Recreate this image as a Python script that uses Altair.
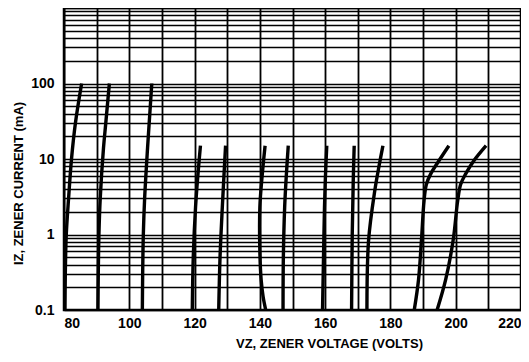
import altair as alt
import pandas as pd

# Zener curves: voltage (V) at given current (mA)
v_a = [80.3, 80.4, 80.7, 81.4, 82.3, 83.5, 85.4]
i_a = [0.1, 0.3, 1, 3, 10, 30, 100]
v_b = [90.4, 90.5, 90.7, 91.1, 92.1, 92.8, 93.9]
i_b = [0.1, 0.3, 1, 3, 14, 30, 100]
v_c = [104.0, 104.1, 104.3, 104.7, 105.6, 106.1, 106.9]
i_c = [0.1, 0.3, 1, 3, 14, 30, 100]
v_d = [119.3, 119.6, 120.3, 121.0, 121.8]
i_d = [0.1, 0.5, 2.3, 6, 15]
v_e = [127.4, 127.8, 128.5, 129.0, 129.5]
i_e = [0.1, 0.5, 2.3, 6, 15]
v_f = [141.8, 141.0, 140.4, 140.0, 140.0, 140.7, 141.6]
i_f = [0.1, 0.15, 0.25, 0.6, 2.3, 6, 15]
v_g = [147.1, 147.2, 147.6, 148.1, 148.7]
i_g = [0.1, 0.5, 2.3, 6, 15]
v_h = [159.2, 159.5, 159.8, 160.1, 160.5]
i_h = [0.1, 0.5, 2.3, 6, 15]
v_i = [168.1, 168.3, 168.6, 168.9]
i_i = [0.1, 1, 5, 15]
v_j = [172.8, 173.3, 175.2, 176.5, 177.7]
i_j = [0.1, 0.83, 3.8, 8, 15]
v_k = [187.3, 188.6, 189.5, 190.3, 191.0, 192.3, 194.8, 197.9]
i_k = [0.1, 0.25, 0.83, 2.8, 4.6, 6.3, 9.4, 15]
v_l = [194.3, 196.9, 199.2, 200.6, 201.5, 203.0, 205.5, 209.3]
i_l = [0.1, 0.25, 0.83, 2.8, 4.6, 6.3, 9.4, 15]

curves = {
    "A": (v_a, i_a), "B": (v_b, i_b), "C": (v_c, i_c), "D": (v_d, i_d),
    "E": (v_e, i_e), "F": (v_f, i_f), "G": (v_g, i_g), "H": (v_h, i_h),
    "I": (v_i, i_i), "J": (v_j, i_j), "K": (v_k, i_k), "L": (v_l, i_l),
}

x_ticks = [80, 90, 100, 110, 120, 130, 140, 150, 160, 170, 180, 190, 200, 210, 220]
y_ticks = [0.1, 0.2, 0.3, 0.4, 0.5, 0.6, 0.7, 0.8, 0.9,
           1, 2, 3, 4, 5, 6, 7, 8, 9,
           10, 20, 30, 40, 50, 60, 70, 80, 90,
           100, 200, 300, 400, 500, 600, 700, 800, 900, 1000]
y_labels = ["0.1", "1", "10", "100"]

rows = []
for name, (vs, cs) in curves.items():
    for k, (v, c) in enumerate(zip(vs, cs)):
        rows.append({"curve": name, "v": v, "i": c, "seq": k})
df = pd.DataFrame(rows)

FONT = "Liberation Sans, Arial, sans-serif"

label_expr = "indexof(" + str(y_labels) + ", toString(datum.value)) >= 0 ? toString(datum.value) : ''"

chart = alt.Chart(df).mark_line(
    color="black", strokeWidth=3.4, interpolate="catmull-rom", clip=True
).encode(
    x=alt.X("v:Q",
            scale=alt.Scale(domain=[80, 220], nice=False, zero=False),
            axis=alt.Axis(values=x_ticks,
                          labelExpr="datum.value % 20 == 0 ? toString(datum.value) : ''",
                          title="VZ, ZENER VOLTAGE (VOLTS)",
                          titleX=265, titleY=33, titleBaseline="middle",
                          labelPadding=6, labelFontSize=14, gridWidth=1.8)),
    y=alt.Y("i:Q",
            scale=alt.Scale(type="log", domain=[0.1, 1000], nice=False),
            axis=alt.Axis(values=y_ticks, labelExpr=label_expr,
                          title="IZ, ZENER CURRENT (mA)",
                          titleX=-46, titleY=175, titleAngle=-90,
                          titleAlign="center", titleBaseline="middle",
                          labelPadding=10, labelFontSize=14, gridWidth=1.5)),
    detail="curve:N",
    order="seq:Q",
).properties(
    width=457, height=302,
    autosize=alt.AutoSizeParams(type="none"),
    padding={"left": 56, "top": 0, "right": 0, "bottom": 44},
).configure_view(
    stroke="black", strokeWidth=2.5
).configure_axis(
    domain=False, ticks=False,
    grid=True, gridColor="black", gridOpacity=1,
    labelFont=FONT, labelFontWeight="bold", labelColor="black",
    titleFont=FONT, titleFontWeight="bold", titleColor="black", titleFontSize=13,
)

chart.save("out.html", embed_options={"renderer": "svg", "actions": False})
